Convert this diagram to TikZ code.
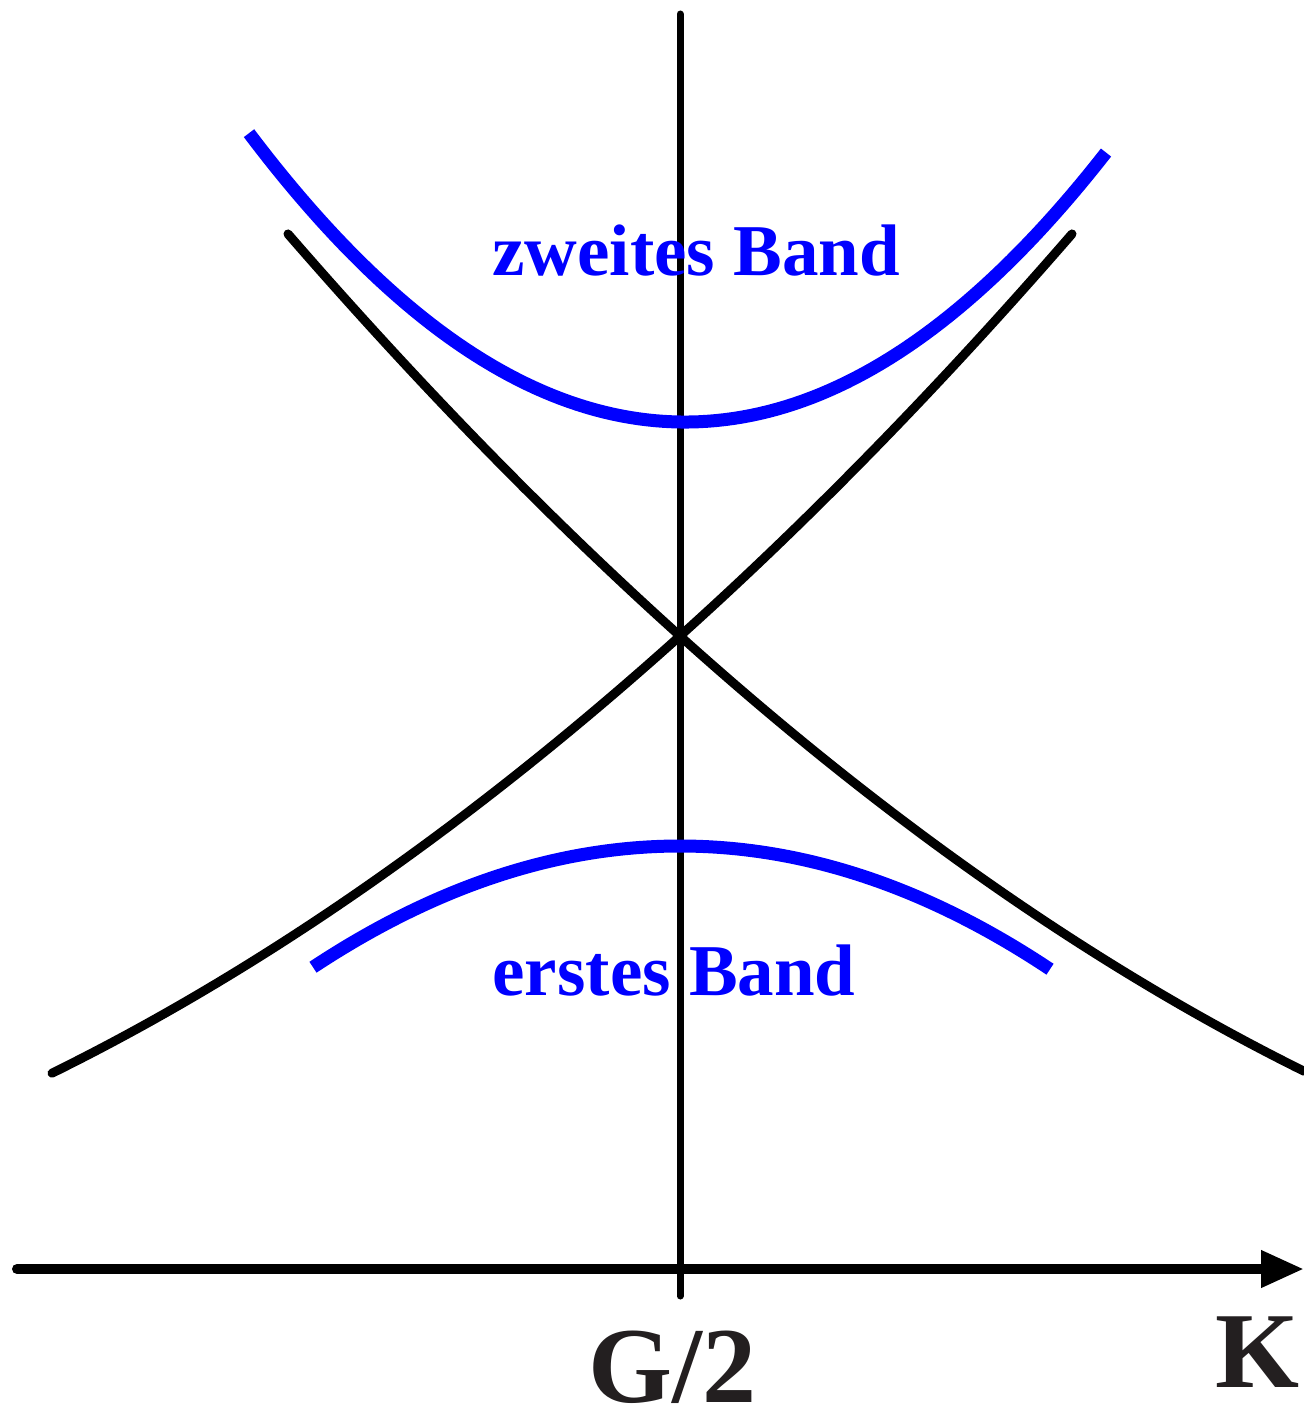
\documentclass[tikz,border=0pt]{standalone}
\usepackage{fontspec}
\setmainfont{Liberation Serif}
\usetikzlibrary{arrows.meta}
\definecolor{bandblue}{RGB}{0,0,255}
\definecolor{inkblack}{RGB}{35,31,32}
\begin{document}
\begin{tikzpicture}[x=0.5pt,y=-0.5pt,
  freecurve/.style={line width=4.5pt, line cap=round, black},
  bandcurve/.style={line width=6.5pt, bandblue},
  haxis/.style={line width=5pt, line cap=round, black, -{Triangle[length=21.5pt,width=17.5pt]}},
  vaxis/.style={line width=3.5pt, line cap=round, black},
  bandlabel/.style={text=bandblue, font=\fontsize{36.5}{40}\selectfont\bfseries, inner sep=0pt, anchor=base},
  axislabel/.style={text=inkblack, font=\fontsize{54}{60}\selectfont\bfseries, inner sep=0pt, text depth=0pt, anchor=base}]
\useasboundingbox (0,0) rectangle (1304,1413);

% axes
\coordinate (hstart) at (17,1269);
\coordinate (hend) at (1304,1269);
\coordinate (vtop) at (680,14);
\coordinate (vbot) at (680,1296);
\draw[vaxis] (vtop) -- (vbot);
\draw[haxis] (hstart) -- (hend);

% free-electron parabolas
\draw[freecurve] plot[domain=52:1072, samples=100, variable=\x]
  (\x, {636 - 0.899*(\x-680) - 3.23*((\x-680)/100)^2});
\draw[freecurve] plot[domain=288:1304, samples=100, variable=\x]
  (\x, {636 + 0.899*(\x-680) - 3.23*((\x-680)/100)^2});

% bands
\draw[bandcurve] plot[domain=249:1106, samples=100, variable=\x]
  (\x, {422 - 15.2*((\x-680)/100)^2 + 0.015*(\x-680)});
\draw[bandcurve] plot[domain=313:1050, samples=100, variable=\x]
  (\x, {846 + 9*((\x-680)/100)^2});

% labels
\node[bandlabel] (zweites) at (696,275) {zweites Band};
\node[bandlabel] (erstes) at (674,995) {erstes Band};
\node[axislabel] (G) at (672,1402) {G/2};
\node[axislabel] (K) at (1257,1387) {K};
\end{tikzpicture}
\end{document}
